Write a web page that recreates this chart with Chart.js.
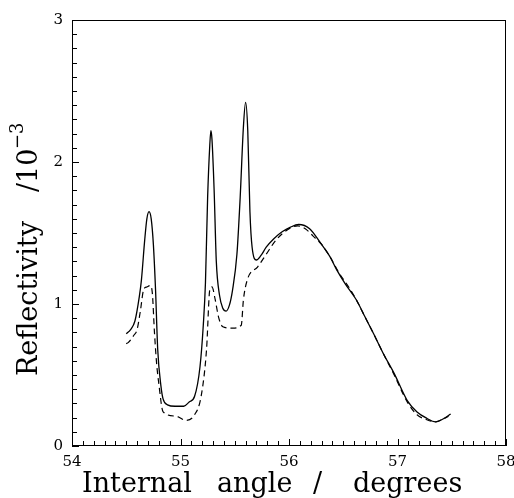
<!DOCTYPE html>
<html>
<head>
<meta charset="utf-8">
<script src="https://cdn.jsdelivr.net/npm/chart.js@4"></script>
<style>
    html, body { margin: 0; padding: 0; background: #fff; }
    #wrap { width: 514px; height: 498px; }
</style>
</head>
<body>
<div id="wrap"><canvas id="reflChart" width="514" height="498"></canvas></div>
<script>
// ================================
// Data
// ================================
const solidAngle = [54.50, 54.54, 54.58, 54.62, 54.64, 54.67, 54.69, 54.71, 54.73, 54.75, 54.77, 54.79, 54.82,
    54.84, 54.88, 54.95, 55.03, 55.08, 55.13, 55.18, 55.21, 55.23, 55.25, 55.27, 55.28, 55.29, 55.31, 55.33,
    55.36, 55.39, 55.42, 55.45, 55.48, 55.52, 55.55, 55.58, 55.60, 55.62, 55.64, 55.66, 55.70, 55.74, 55.79,
    55.86, 55.94, 56.01, 56.09, 56.19, 56.29, 56.38, 56.44, 56.52, 56.62, 56.70, 56.78, 56.87, 56.97, 57.09,
    57.18, 57.27, 57.35, 57.43, 57.49];
const solidRefl = [0.79, 0.82, 0.88, 1.05, 1.17, 1.45, 1.60, 1.65, 1.60, 1.42, 1.10, 0.68, 0.42,
    0.33, 0.29, 0.28, 0.28, 0.31, 0.35, 0.56, 0.85, 1.15, 1.75, 2.12, 2.22, 2.16, 1.80, 1.30,
    1.06, 0.97, 0.95, 0.99, 1.10, 1.35, 1.75, 2.25, 2.42, 2.22, 1.65, 1.40, 1.31, 1.34, 1.40,
    1.46, 1.51, 1.54, 1.56, 1.53, 1.43, 1.33, 1.24, 1.14, 1.03, 0.91, 0.79, 0.65, 0.51, 0.32,
    0.24, 0.195, 0.17, 0.195, 0.225];

const dashedAngle = [54.50, 54.52, 54.57, 54.60, 54.63, 54.66, 54.69, 54.72, 54.74, 54.76, 54.78, 54.80, 54.84,
    54.96, 55.05, 55.13, 55.19, 55.24, 55.27, 55.29, 55.32, 55.35, 55.39, 55.48, 55.56, 55.58, 55.62,
    55.71, 55.79, 55.88, 55.98, 56.08, 56.15, 56.22, 56.30, 56.38, 56.46, 56.55, 56.62, 56.70, 56.78,
    56.87, 56.97, 57.09, 57.18, 57.27, 57.35, 57.42, 57.47];
const dashedRefl = [0.72, 0.73, 0.78, 0.82, 0.95, 1.10, 1.12, 1.13, 1.08, 0.80, 0.58, 0.44, 0.24,
    0.21, 0.18, 0.22, 0.35, 0.68, 1.10, 1.12, 1.03, 0.91, 0.84, 0.83, 0.85, 1.03, 1.18,
    1.26, 1.35, 1.45, 1.52, 1.55, 1.53, 1.48, 1.42, 1.33, 1.22, 1.12, 1.03, 0.91, 0.79,
    0.65, 0.50, 0.31, 0.22, 0.185, 0.17, 0.19, 0.21];

const xRange = [54, 58];
const yRange = [0, 3];
const minorStep = 0.1;

// ================================
// Helpers
// ================================
function toPoints(xs, ys) {
    return xs.map((x, i) => ({ x: x, y: ys[i] }));
}

function isMajor(v) {
    return Math.abs(v - Math.round(v)) < 1e-6;
}

// inward tick marks + closed frame
const frameTicks = {
    id: 'frameTicks',
    afterDraw(chart) {
        const ctx = chart.ctx;
        const a = chart.chartArea;
        const xs = chart.scales.x;
        const ys = chart.scales.y;
        ctx.save();
        ctx.strokeStyle = '#000';
        ctx.lineWidth = 1;
        ctx.strokeRect(a.left + 0.5, a.top + 0.5, a.right - a.left - 1, a.bottom - a.top - 1);
        ctx.beginPath();
        xs.ticks.forEach(t => {
            const px = Math.round(xs.getPixelForValue(t.value)) + 0.5;
            const len = isMajor(t.value) ? 7 : 5;
            ctx.moveTo(px, a.bottom);
            ctx.lineTo(px, a.bottom - len);
        });
        ys.ticks.forEach(t => {
            const py = Math.round(ys.getPixelForValue(t.value)) + 0.5;
            const len = isMajor(t.value) ? 7 : 5;
            ctx.moveTo(a.left, py);
            ctx.lineTo(a.left + len, py);
        });
        ctx.stroke();
        ctx.restore();
    }
};

// axis titles (plotter style lettering)
const axisTitles = {
    id: 'axisTitles',
    afterDraw(chart) {
        const ctx = chart.ctx;
        ctx.save();
        ctx.fillStyle = '#000';
        ctx.font = '27px "DejaVu Serif"';
        ctx.textBaseline = 'alphabetic';
        ctx.textAlign = 'left';
        // x title
        ctx.fillText('Internal', 82, 492);
        ctx.fillText('angle', 217, 492);
        ctx.fillText('/', 313, 492);
        ctx.fillText('degrees', 353, 492);
        // y title
        ctx.translate(37, 376);
        ctx.rotate(-Math.PI / 2);
        ctx.fillText('Reflectivity', 0, 0);
        ctx.fillText('/10', 184, 0);
        ctx.font = '18px "DejaVu Serif"';
        ctx.fillText('\u22123', 227, -14);
        ctx.restore();
    }
};

// ================================
// Chart
// ================================
document.addEventListener('DOMContentLoaded', function () {
    const ctx = document.getElementById('reflChart').getContext('2d');

    new Chart(ctx, {
        type: 'line',
        data: {
            datasets: [{
                label: 'solid',
                data: toPoints(solidAngle, solidRefl),
                borderColor: '#000',
                borderWidth: 1.3,
                pointRadius: 0,
                cubicInterpolationMode: 'monotone',
                fill: false
            }, {
                label: 'dashed',
                data: toPoints(dashedAngle, dashedRefl),
                borderColor: '#000',
                borderWidth: 1.2,
                borderDash: [6, 4],
                pointRadius: 0,
                cubicInterpolationMode: 'monotone',
                fill: false
            }]
        },
        options: {
            responsive: false,
            animation: false,
            layout: { padding: { left: 0, top: 20, right: 8, bottom: 0 } },
            plugins: {
                legend: { display: false },
                tooltip: { enabled: false }
            },
            scales: {
                x: {
                    type: 'linear',
                    min: xRange[0],
                    max: xRange[1],
                    grid: { display: false, drawTicks: false },
                    border: { display: false },
                    ticks: {
                        stepSize: minorStep,
                        autoSkip: false,
                        maxRotation: 0,
                        padding: 7,
                        color: '#000',
                        font: { family: 'DejaVu Serif', size: 15 },
                        callback: v => isMajor(v) ? String(Math.round(v)) : ''
                    },
                    afterFit(scale) {
                        scale.height = 52;
                        scale.paddingLeft = 0;
                        scale.paddingRight = 0;
                    }
                },
                y: {
                    min: yRange[0],
                    max: yRange[1],
                    grid: { display: false, drawTicks: false },
                    border: { display: false },
                    ticks: {
                        stepSize: minorStep,
                        autoSkip: false,
                        padding: 9,
                        color: '#000',
                        font: { family: 'DejaVu Serif', size: 15 },
                        callback: v => isMajor(v) ? String(Math.round(v)) : ''
                    },
                    afterFit(scale) {
                        scale.width = 72;
                        scale.paddingTop = 0;
                        scale.paddingBottom = 0;
                    }
                }
            }
        },
        plugins: [frameTicks, axisTitles]
    });
});
</script>
</body>
</html>
